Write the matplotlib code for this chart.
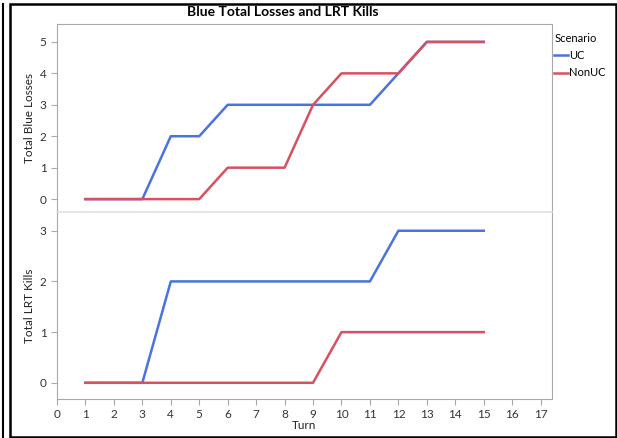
import numpy as np
import matplotlib.pyplot as plt
from matplotlib.lines import Line2D
from matplotlib.patches import Rectangle

plt.rcParams['font.family'] = ['Lato', 'DejaVu Sans']

turns = list(range(1, 16))
uc_losses = [0, 0, 0, 2, 2, 3, 3, 3, 3, 3, 3, 4, 5, 5, 5]
nonuc_losses = [0, 0, 0, 0, 0, 1, 1, 1, 3, 4, 4, 4, 5, 5, 5]
uc_kills = [0, 0, 0, 2, 2, 2, 2, 2, 2, 2, 2, 3, 3, 3, 3]
nonuc_kills = [0, 0, 0, 0, 0, 0, 0, 0, 0, 1, 1, 1, 1, 1, 1]

blue = "#4a72e0"
red = "#d9505f"
gray = "#a8a8a8"

W, H = 617, 438
fig = plt.figure(figsize=(W / 100, H / 100), dpi=100)

def box(x0, y0, x1, y1):
    return [x0 / W, 1 - y1 / H, (x1 - x0) / W, (y1 - y0) / H]

ax1 = fig.add_axes(box(57, 24, 552, 212))
ax2 = fig.add_axes(box(57, 212, 552, 399))

ax1.plot(turns, uc_losses, color=blue, lw=1.8)
ax1.plot(turns, nonuc_losses, color=red, lw=1.8)
ax2.plot(turns, uc_kills, color=blue, lw=1.8)
ax2.plot(turns, nonuc_kills, color=red, lw=1.8)

ax1.set_ylim(-0.41, 5.57)
ax2.set_ylim(-0.32, 3.37)
for ax in (ax1, ax2):
    ax.set_xlim(0, 17.4)
    ax.set_xticks(range(0, 18))
    for s in ax.spines.values():
        s.set_color(gray)
    ax.tick_params(colors=gray, labelcolor="#333333", labelsize=8.5, length=4, width=0.8)
ax1.spines['bottom'].set_visible(False)
ax2.spines['top'].set_color("#e0e0e0")
ax2.spines['top'].set_linewidth(1.2)
ax1.tick_params(axis='x', bottom=False, labelbottom=False)
ax1.set_yticks(range(0, 6))
ax2.set_yticks(range(0, 4))

ax1.set_ylabel("Total Blue Losses", fontsize=8.5, color="#222222")
ax2.set_ylabel("Total LRT Kills", fontsize=8.5, color="#222222")
ax2.set_xlabel("Turn", fontsize=8.5, color="#222222", labelpad=0)
ax1.yaxis.set_label_coords(-0.045, 0.5)
ax2.yaxis.set_label_coords(-0.045, 0.5)

fig.text(283 / W, 1 - 12 / H, "Blue Total Losses and LRT Kills", ha="center", va="center",
         fontsize=10, fontweight="bold")

handles = [Line2D([], [], color=blue, lw=1.8), Line2D([], [], color=red, lw=1.8)]
leg = fig.legend(handles, ["UC", "NonUC"], title="Scenario", loc="upper left",
                 bbox_to_anchor=(552 / W, 1 - 31 / H), frameon=False, fontsize=8,
                 title_fontsize=8, handlelength=1.2, handletextpad=0.15, labelspacing=0.55,
                 borderpad=0.1, borderaxespad=0.1)
leg._legend_box.align = "left"

# frame lines
fig.add_artist(Rectangle((10 / W, 1 - 437 / H), 606 / W, 433 / H, transform=fig.transFigure,
                         fill=False, edgecolor="black", lw=1.8))
fig.add_artist(Line2D([2.5 / W, 2.5 / W], [0, 1 - 4 / H], transform=fig.transFigure,
                      color="black", lw=1.5))

fig.savefig("out.png", dpi=100)
